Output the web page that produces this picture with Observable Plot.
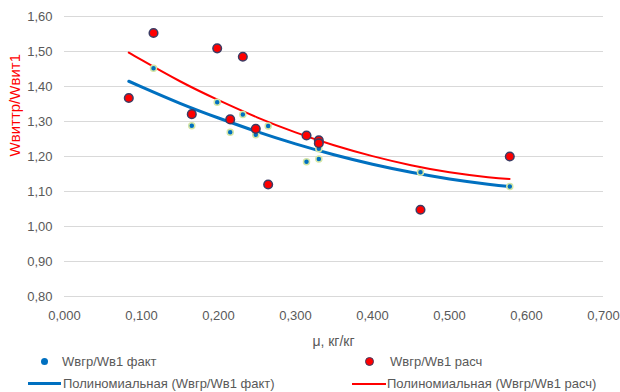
<!DOCTYPE html>
<html><head><meta charset="utf-8">
<script src="https://cdn.jsdelivr.net/npm/d3@7"></script>
<script src="https://cdn.jsdelivr.net/npm/@observablehq/plot@0.6"></script>
<style>
body{margin:0;background:#fff;font-family:"Liberation Sans",Arial,sans-serif;}
#wrap{position:relative;width:620px;height:392px;overflow:hidden;}
#chart svg{display:block;}
.t{position:absolute;color:#595959;font-size:13px;white-space:nowrap;line-height:16px;}
.sw{position:absolute;}
</style></head><body>
<div id="wrap"><div id="chart"></div></div>
<script>
// Data
const muX    = [0.0835,0.1156,0.1653,0.1983,0.2152,0.2316,0.2484,0.2645,0.3143,0.3303,0.3303,0.4623,0.5783];
const factY  = [1.366,1.452,1.288,1.355,1.269,1.320,1.262,1.287,1.185,1.193,1.222,1.155,1.114];
const raschY = [1.367,1.553,1.321,1.509,1.306,1.485,1.279,1.120,1.260,1.246,1.238,1.048,1.200];
// Trend lines (polynomial)
const trendX     = [0.0835,0.1,0.15,0.2,0.25,0.3,0.35,0.4,0.45,0.5,0.55,0.578];
const trendFact  = [1.415,1.399,1.352,1.310,1.271,1.236,1.205,1.178,1.155,1.136,1.121,1.114];
const trendRasch = [1.497,1.476,1.415,1.361,1.312,1.269,1.232,1.201,1.175,1.155,1.141,1.136];
const xTicks = [0,0.1,0.2,0.3,0.4,0.5,0.6,0.7];
const yTicks = [0.8,0.9,1.0,1.1,1.2,1.3,1.4,1.5,1.6];
const xLabel = "μ, кг/кг";
const yLabel = "Wвиттр/Wвит1";
const legendNames = ["Wвгр/Wв1 факт","Wвгр/Wв1 расч","Полиномиальная (Wвгр/Wв1 факт)","Полиномиальная (Wвгр/Wв1 расч)"];

const pts = muX.map((x,i)=>({x, fact: factY[i], rasch: raschY[i]}));
const trend = trendX.map((x,i)=>({x, fact: trendFact[i], rasch: trendRasch[i]}));
const gray = "#595959";

const chart = Plot.plot({
  width:620, height:328, marginLeft:64, marginRight:17, marginTop:16, marginBottom:32,
  style:{fontFamily:"'Liberation Sans',Arial,sans-serif", fontSize:"13px", color:gray, background:"white", overflow:"visible"},
  x:{domain:[0,0.7], label:null},
  y:{domain:[0.8,1.6], label:null},
  marks:[
    Plot.gridY(yTicks,{stroke:"#d9d9d9", strokeOpacity:1, strokeWidth:1}),
    Plot.axisX(xTicks,{tickSize:0, tickPadding:14, fill:gray, label:null, tickFormat:d=>d.toFixed(3).replace(".",",")}),
    Plot.axisY(yTicks,{tickSize:0, tickPadding:12, fill:gray, label:null, tickFormat:d=>d.toFixed(2).replace(".",",")}),
    Plot.text([yLabel],{frameAnchor:"left", dx:-49, rotate:-90, fill:"#FF0000", fontSize:15}),
    Plot.line(trend,{x:"x", y:"fact", stroke:"#0070C0", strokeWidth:3, curve:"natural"}),
    Plot.line(trend,{x:"x", y:"rasch", stroke:"#FF0000", strokeWidth:2, curve:"natural"}),
    Plot.dot(pts,{x:"x", y:"fact", r:3, fill:"#0070C0", stroke:"#d4e6a5", strokeWidth:1.5}),
    Plot.dot(pts,{x:"x", y:"rasch", r:4.3, fill:"#FF0000", stroke:"#3c3c64", strokeWidth:1.5})
  ]
});
document.getElementById("chart").appendChild(chart);

const wrap = document.getElementById("wrap");
function add(html){ wrap.insertAdjacentHTML("beforeend", html); }
add(`<div class="t" style="left:0;width:667px;text-align:center;top:333px;font-size:14px;">${xLabel}</div>`);
add(`<div class="sw" style="left:41px;top:358px;width:7px;height:7px;border-radius:50%;background:#0070C0;"></div>`);
add(`<div class="t" style="left:62px;top:354px;">${legendNames[0]}</div>`);
add(`<div class="sw" style="left:365px;top:357px;width:9px;height:9px;border-radius:50%;background:#FF0000;box-sizing:border-box;border:1.5px solid #3c3c64;"></div>`);
add(`<div class="t" style="left:390px;top:354px;">${legendNames[1]}</div>`);
add(`<div class="sw" style="left:28px;top:382px;width:33px;height:3px;background:#0070C0;"></div>`);
add(`<div class="t" style="left:63px;top:376px;">${legendNames[2]}</div>`);
add(`<div class="sw" style="left:352px;top:383px;width:34px;height:2px;background:#FF0000;"></div>`);
add(`<div class="t" style="left:387px;top:376px;">${legendNames[3]}</div>`);
</script>
</body></html>
